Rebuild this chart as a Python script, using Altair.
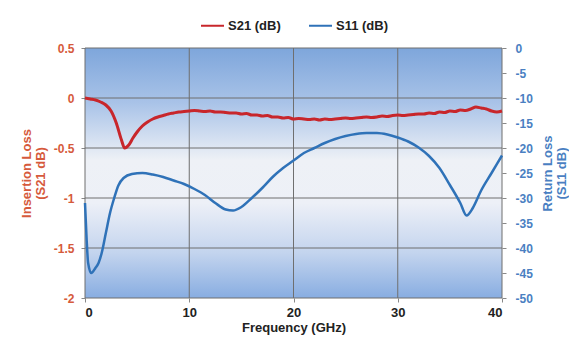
import altair as alt
import pandas as pd

# ---------------- data ----------------
s21_f = [0, 0.5, 1, 1.5, 2, 2.5, 3, 3.5, 3.8, 4.2, 4.6, 5, 5.5, 6, 6.5, 7, 7.5, 8, 8.5, 9, 9.5,
         10, 10.5, 11, 11.5, 12, 12.5, 13, 13.5, 14, 14.5, 15, 15.5, 16, 16.5, 17, 17.5, 18, 18.5,
         19, 19.5, 20, 20.5, 21, 21.5, 22, 22.5, 23, 23.5, 24, 24.5, 25, 25.5, 26, 26.5, 27, 27.5,
         28, 28.5, 29, 29.5, 30, 30.5, 31, 31.5, 32, 32.5, 33, 33.5, 34, 34.5, 35, 35.5, 36, 36.5,
         37, 37.5, 38, 38.5, 39, 39.5, 40]
s21_v = [0.00, -0.01, -0.02, -0.04, -0.07, -0.13, -0.25, -0.42, -0.50, -0.47, -0.40, -0.34, -0.28,
         -0.24, -0.21, -0.19, -0.175, -0.16, -0.15, -0.14, -0.135,
         -0.13, -0.125, -0.13, -0.135, -0.13, -0.14, -0.14, -0.145, -0.15, -0.15, -0.16, -0.155,
         -0.17, -0.17, -0.18, -0.175, -0.19, -0.19, -0.20, -0.195, -0.21, -0.205, -0.21, -0.215,
         -0.21, -0.22, -0.21, -0.215, -0.21, -0.205, -0.20, -0.205, -0.20, -0.195, -0.19, -0.195,
         -0.19, -0.18, -0.185, -0.175, -0.17, -0.175, -0.17, -0.165, -0.16, -0.16, -0.15, -0.155,
         -0.14, -0.145, -0.13, -0.135, -0.12, -0.125, -0.11, -0.09, -0.10, -0.11, -0.13, -0.14, -0.13]

s11_f = [0, 0.15, 0.3, 0.6, 1.0, 1.3, 1.6, 2.0, 2.4, 2.8, 3.2, 3.7, 4.5, 5.5, 6.5, 7.5, 8.5, 9.5,
         10.5, 11.5, 12.5, 13.5, 14.2, 15, 16, 17, 18, 19, 20, 21, 22, 23, 24, 25, 26, 27, 28, 29,
         30, 31, 32, 33, 34, 35, 36, 36.6, 37.2, 38, 39, 40]
s11_v = [-31, -38, -43, -45, -44, -43, -41, -37, -33, -30, -27.5, -26, -25.2, -25, -25.3, -25.8,
         -26.5, -27.2, -28.2, -29.4, -31, -32.3, -32.5, -31.8, -30, -28, -25.8, -24, -22.5, -21,
         -20, -19, -18.2, -17.6, -17.2, -17, -17, -17.3, -17.9, -18.7, -19.9, -21.6, -24, -27.4,
         -31, -33.5, -32, -28.5, -25, -21.5]

x_ticks = [0, 10, 20, 30, 40]
left_ticks = [0.5, 0, -0.5, -1, -1.5, -2]
right_ticks = [0, -5, -10, -15, -20, -25, -30, -35, -40, -45, -50]
series_names = ["S21 (dB)", "S11 (dB)"]

# ---------------- styling ----------------
W, H = 417, 250
RED = "#c8262b"
BLUE = "#2f72b8"
LEFT_TXT = "#d65a3c"
RIGHT_TXT = "#4a7fc2"
FONT = "Liberation Sans"
PLAIN = "datum.value + ''"

s21 = pd.DataFrame({"f": s21_f, "v": s21_v, "series": series_names[0]})
s11 = pd.DataFrame({"f": s11_f, "v": s11_v, "series": series_names[1]})

x_scale = alt.Scale(domain=[0, 40], nice=False)
x_axis = alt.Axis(values=x_ticks, title="Frequency (GHz)", grid=False, domain=False,
                  tickColor="#888", tickSize=4, labelFont=FONT, labelFontSize=13,
                  labelFontWeight="bold", labelColor="#222", labelPadding=4,
                  titleFont=FONT, titleFontSize=13, titleFontWeight="bold",
                  titleColor="#222", titlePadding=2)

color = alt.Color("series:N",
                  scale=alt.Scale(domain=series_names, range=[RED, BLUE]),
                  legend=alt.Legend(orient="none", legendX=115, legendY=-35,
                                    direction="horizontal", title=None,
                                    symbolType="stroke", symbolSize=529,
                                    symbolStrokeWidth=2, labelFont=FONT,
                                    labelFontSize=13, labelFontWeight="bold",
                                    labelColor="#222", columnPadding=24,
                                    labelOffset=3))

bg = alt.Chart(pd.DataFrame({"a": [0]})).mark_rect(
    fill=alt.Gradient(
        gradient="linear", x1=0, y1=0, x2=0, y2=1,
        stops=[
            alt.GradientStop(offset=0, color="#7ea6db"),
            alt.GradientStop(offset=0.22, color="#a9c3e8"),
            alt.GradientStop(offset=0.45, color="#eef1f6"),
            alt.GradientStop(offset=0.62, color="#edf0f7"),
            alt.GradientStop(offset=0.82, color="#c3d4ee"),
            alt.GradientStop(offset=1, color="#88ade1"),
        ],
    )
).encode(x=alt.value(0), x2=alt.value(W), y=alt.value(0), y2=alt.value(H))

vgrid = alt.Chart(pd.DataFrame({"f": x_ticks})).mark_rule(color="#6f6f6f", strokeWidth=1).encode(
    x=alt.X("f:Q", scale=x_scale, axis=x_axis)
)
hgrid = alt.Chart(pd.DataFrame({"v": left_ticks})).mark_rule(color="#6f6f6f", strokeWidth=1).encode(
    y=alt.Y("v:Q", scale=alt.Scale(domain=[-2, 0.5], nice=False), axis=None)
)

line21 = alt.Chart(s21).mark_line(strokeWidth=3, interpolate="monotone").encode(
    x=alt.X("f:Q", scale=x_scale, axis=x_axis),
    y=alt.Y("v:Q", scale=alt.Scale(domain=[-2, 0.5], nice=False),
            axis=alt.Axis(orient="left", values=left_ticks, title=["Insertion Loss", "(S21 dB)"],
                          labelExpr=PLAIN,
                          grid=False, domain=False, tickColor="#888", tickSize=4,
                          labelFont=FONT, labelFontSize=12, labelFontWeight="bold",
                          labelColor=LEFT_TXT, labelPadding=7,
                          titleFont=FONT, titleFontSize=13, titleFontWeight="bold",
                          titleColor=LEFT_TXT, titleAngle=270, titlePadding=6,
                          titleLineHeight=14)),
    color=color,
)

line11 = alt.Chart(s11).mark_line(strokeWidth=2.5, interpolate="monotone").encode(
    x=alt.X("f:Q", scale=x_scale, axis=x_axis),
    y=alt.Y("v:Q", scale=alt.Scale(domain=[-50, 0], nice=False),
            axis=alt.Axis(orient="right", values=right_ticks, title=["Return Loss", "(S11 dB)"],
                          labelExpr=PLAIN,
                          grid=False, domain=False, tickColor="#888", tickSize=4,
                          labelFont=FONT, labelFontSize=12, labelFontWeight="bold",
                          labelColor=RIGHT_TXT, labelPadding=9,
                          titleFont=FONT, titleFontSize=13, titleFontWeight="bold",
                          titleColor=RIGHT_TXT, titleAngle=270, titlePadding=8,
                          titleLineHeight=14)),
    color=color,
)

chart = alt.layer(bg, vgrid, hgrid, line21, line11).resolve_scale(y="independent").properties(
    width=W, height=H,
    autosize=alt.AutoSizeParams(type="none"),
    padding={"left": 77, "top": 40, "right": 67, "bottom": 41},
    background="white",
).configure_view(stroke=None)

chart.save("out.html", embed_options={"renderer": "svg", "actions": False})
